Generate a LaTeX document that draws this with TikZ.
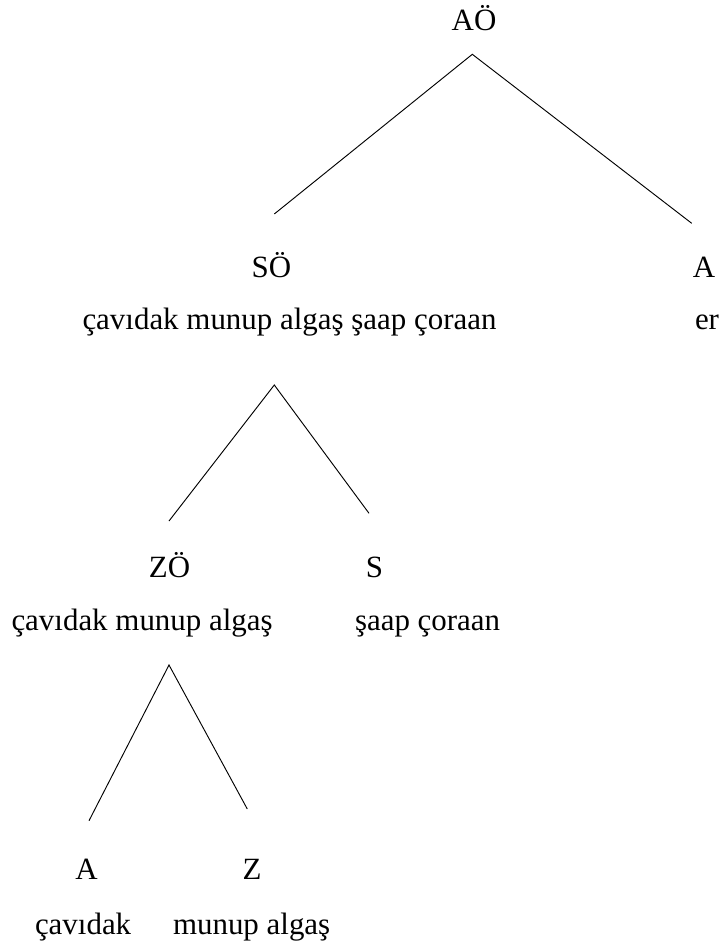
\documentclass[tikz,border=0pt]{standalone}
\usepackage{fontspec}
\setmainfont{Liberation Serif}
\begin{document}
\begin{tikzpicture}[x=0.75pt,y=-0.75pt,
  lbl/.style={inner sep=0pt,outer sep=0pt,anchor=base,font=\fontsize{23.2}{28}\selectfont},
  txt/.style={inner sep=0pt,outer sep=0pt,anchor=base west,font=\fontsize{23.2}{28}\selectfont},
  branch/.style={draw=black,line width=0.7pt}]
\useasboundingbox (0,0) rectangle (723,945);
% labels
\node[lbl] (AO) at (474,31) {AÖ};
\node[lbl] (SO) at (271.5,277) {SÖ};
\node[lbl] (A1) at (704,277) {A};
\node[txt] (t1) at (82.5,329) {çavıdak munup algaş şaap çoraan};
\node[txt] (er) at (695,329) {er};
\node[lbl] (ZO) at (169.5,577) {ZÖ};
\node[lbl] (S) at (374.5,577) {S};
\node[txt] (t2) at (11.5,630) {çavıdak munup algaş};
\node[txt] (t3) at (355,630) {şaap çoraan};
\node[lbl] (A2) at (86.5,879) {A};
\node[lbl] (Z) at (252,879) {Z};
\node[txt] (t4) at (35,934) {çavıdak};
\node[txt] (t5) at (173,934) {munup algaş};
% branch points
\coordinate (p1) at (472.3,54.3);
\coordinate (p1l) at (274.3,214);
\coordinate (p1r) at (691.7,223.3);
\coordinate (p2) at (274.3,385);
\coordinate (p2l) at (169,521);
\coordinate (p2r) at (369,513.3);
\coordinate (p3) at (169,665);
\coordinate (p3l) at (89,820.7);
\coordinate (p3r) at (247.3,809);
\draw[branch] (p1l) -- (p1) -- (p1r);
\draw[branch] (p2l) -- (p2) -- (p2r);
\draw[branch] (p3l) -- (p3) -- (p3r);
\end{tikzpicture}
\end{document}
